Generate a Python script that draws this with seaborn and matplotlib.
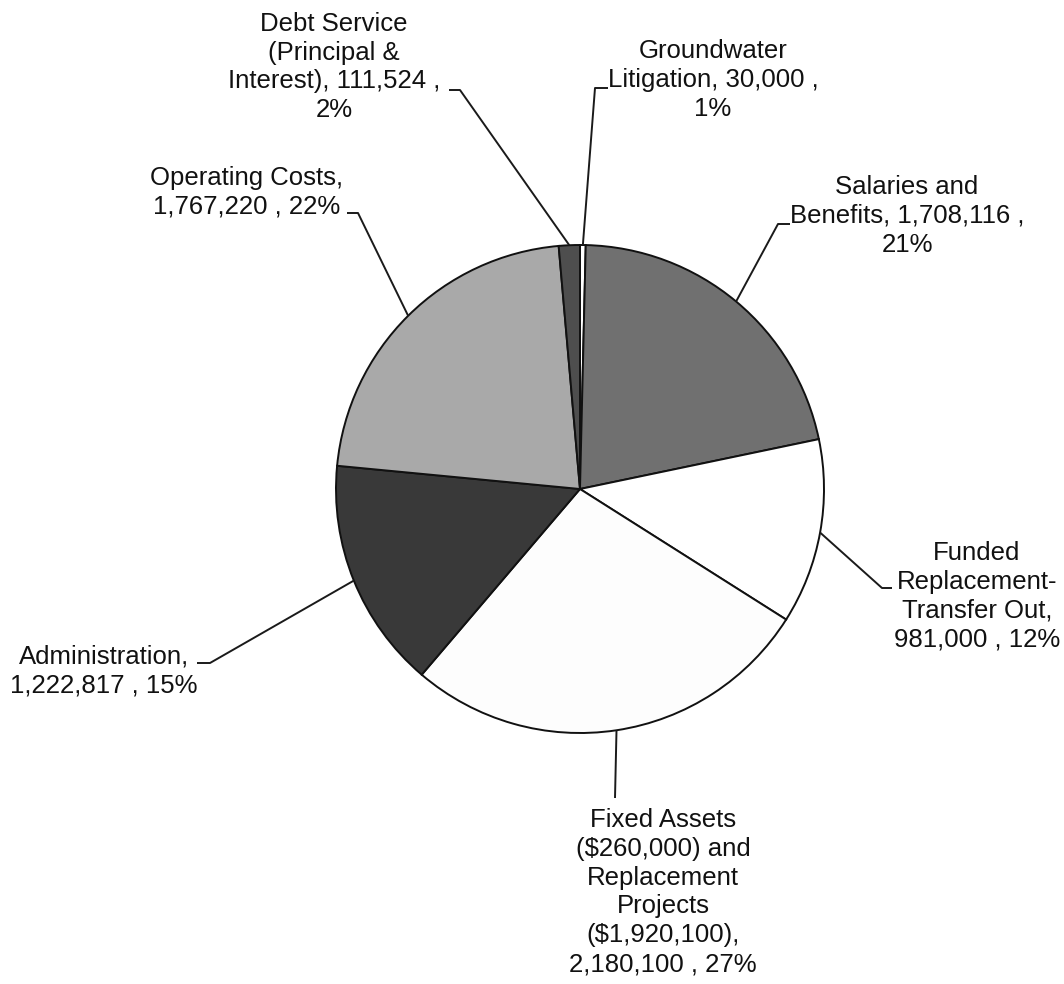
import numpy as np
import matplotlib
matplotlib.use("Agg")
import matplotlib.pyplot as plt
import seaborn as sns

# Budget categories, clockwise from 12 o'clock
categories = [
    "Groundwater Litigation",
    "Salaries and Benefits",
    "Funded Replacement-Transfer Out",
    "Fixed Assets and Replacement Projects",
    "Administration",
    "Operating Costs",
    "Debt Service",
]
amounts = [30000, 1708116, 981000, 2180100, 1222817, 1767220, 111524]
percents = [1, 21, 12, 27, 15, 22, 2]
label_templates = [
    "Groundwater\nLitigation, {v} ,\n{p}%",
    "Salaries and\nBenefits, {v} ,\n{p}%",
    "Funded\nReplacement-\nTransfer Out,\n{v} , {p}%",
    "Fixed Assets\n($260,000) and\nReplacement\nProjects\n($1,920,100),\n{v} , {p}%",
    "Administration,\n{v} , {p}%",
    "Operating Costs,\n{v} , {p}%",
    "Debt Service\n(Principal &\nInterest), {v} ,\n{p}%",
]
slice_colors = ["#ffffff", "#707070", "#ffffff", "#fdfdfd", "#393939", "#a9a9a9", "#4e4e4e"]

sns.set_theme(style="white")
plt.rcParams["font.family"] = ["Liberation Sans", "DejaVu Sans"]

W, H, DPI = 1064, 984, 100
CX, CY, R = 580, 489, 244  # pie centre and radius in pixels


def at(px, py):
    """Convert a pixel layout position to data units (pie radius = 1)."""
    return (px - CX) / R, (CY - py) / R


fig = plt.figure(figsize=(W / DPI, H / DPI), dpi=DPI)
ax = fig.add_axes([0, 0, 1, 1])

wedges, _ = ax.pie(
    amounts,
    colors=slice_colors,
    startangle=90,
    counterclock=False,
    radius=1,
    wedgeprops=dict(edgecolor="#111111", linewidth=1.4),
)

ax.set_xlim(-CX / R, (W - CX) / R)
ax.set_ylim(-(H - CY) / R, CY / R)
ax.set_aspect("equal")
ax.axis("off")

# label block centres, elbow points and short horizontal tails (pixel layout)
label_pos = [(713, 80), (907, 216), (977, 596), (663, 892), (104, 671), (247, 192), (334, 67)]
elbows = [
    [(595, 88), (608, 88)],
    [(778, 224), (790, 224)],
    [(882, 588), (892, 588)],
    [(615, 798)],
    [(210, 663), (197, 663)],
    [(358, 213), (347, 213)],
    [(460, 90), (449, 90)],
]

for w, tmpl, amt, pct, pos, elb in zip(wedges, label_templates, amounts, percents, label_pos, elbows):
    mid = np.deg2rad((w.theta1 + w.theta2) / 2)
    edge = (np.cos(mid), np.sin(mid))
    pts = [edge] + [at(*p) for p in elb]
    xs, ys = zip(*pts)
    ax.plot(xs, ys, color="#1a1a1a", linewidth=1.4, solid_capstyle="butt")
    tx, ty = at(*pos)
    ax.text(tx, ty, tmpl.format(v=f"{amt:,}", p=pct), ha="center", va="center",
            fontsize=18.5, color="#111111", linespacing=1.26)

fig.savefig("out.png", dpi=DPI, facecolor="white")
